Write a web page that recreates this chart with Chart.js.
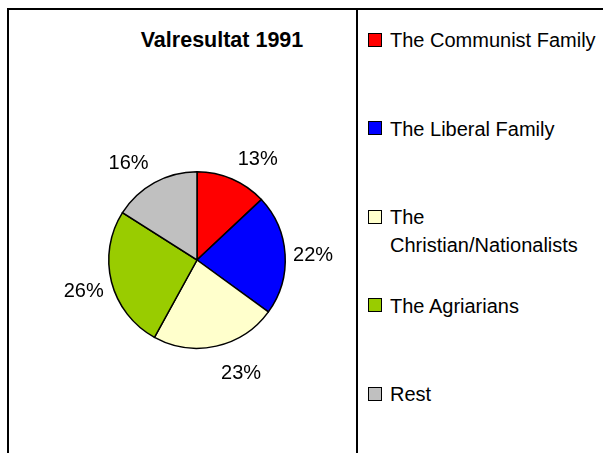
<!DOCTYPE html>
<html>
<head>
<meta charset="utf-8">
<script src="https://cdn.jsdelivr.net/npm/chart.js@4/dist/chart.umd.min.js"></script>
<style>
  html, body { margin: 0; padding: 0; background: #fff; }
  body { width: 603px; height: 453px; position: relative; overflow: hidden; font-family: "Liberation Sans", Arial, sans-serif; }
  #frame { position: absolute; left: 7px; top: 8px; width: 700px; height: 500px; border-top: 2px solid #000; border-left: 2px solid #000; }
  #sep { position: absolute; left: 356px; top: 8px; width: 2px; height: 460px; background: #000; }
  #title { position: absolute; left: 122px; top: 27px; width: 200px; text-align: center; font-weight: bold; font-size: 21.5px; line-height: 26px; color: #000; }
  #chartWrap { position: absolute; left: 9px; top: 10px; width: 347px; height: 443px; }
  #legend { position: absolute; left: 368px; top: 0; width: 235px; height: 453px; }
  .item { position: absolute; left: 0; width: 235px; }
  .sw { position: absolute; left: 0; width: 12px; height: 12px; border: 1.5px solid #000; }
  .txt { position: absolute; left: 22px; width: 212px; font-size: 20px; line-height: 28px; color: #000; }
</style>
</head>
<body>
<div id="frame"></div>
<div id="sep"></div>
<div id="title"></div>
<div id="chartWrap"><canvas id="c" width="347" height="443"></canvas></div>
<div id="legend"></div>
<script>
const chartTitle = "Valresultat 1991";
const categories = ["The Communist Family", "The Liberal Family", "The Christian/Nationalists", "The Agriarians", "Rest"];
const shares = [13, 22, 23, 26, 16];
const colors = ["#FF0000", "#0000FF", "#FFFFCC", "#99CC00", "#C0C0C0"];

document.getElementById('title').textContent = chartTitle;

// HTML legend built from the arrays
const legend = document.getElementById('legend');
categories.forEach((name, i) => {
  const item = document.createElement('div');
  item.className = 'item';
  item.style.top = (40 + i * 88.5 - 14) + 'px';
  const sw = document.createElement('div');
  sw.className = 'sw';
  sw.style.top = '6.5px';
  sw.style.background = colors[i];
  const t = document.createElement('div');
  t.className = 'txt';
  t.textContent = name;
  item.appendChild(sw);
  item.appendChild(t);
  legend.appendChild(item);
});

const pctLabels = {
  id: 'pctLabels',
  afterDatasetsDraw(chart) {
    const ctx = chart.ctx;
    const meta = chart.getDatasetMeta(0);
    const data = chart.data.datasets[0].data;
    const total = data.reduce((a, b) => a + b, 0);
    ctx.save();
    ctx.font = '20px "Liberation Sans", Arial, sans-serif';
    ctx.fillStyle = '#000';
    ctx.textAlign = 'center';
    ctx.textBaseline = 'middle';
    meta.data.forEach((arc, i) => {
      const p = arc.getProps(['x', 'y', 'startAngle', 'endAngle', 'outerRadius'], true);
      const mid = (p.startAngle + p.endAngle) / 2;
      const dx = Math.cos(mid), dy = Math.sin(mid);
      const txt = Math.round(data[i] / total * 100) + '%';
      const w = ctx.measureText(txt).width;
      const x = p.x + (p.outerRadius + 28) * dx + Math.sign(dx) * (w / 2 + 4) * (1 - Math.abs(dx));
      const y = p.y + (p.outerRadius + 25) * dy + 3;
      ctx.fillText(txt, x, y);
    });
    ctx.restore();
  }
};

new Chart(document.getElementById('c'), {
  type: 'pie',
  data: {
    labels: categories,
    datasets: [{
      data: shares,
      backgroundColor: colors,
      borderColor: '#000',
      borderWidth: 1.5,
      borderJoinStyle: 'miter'
    }]
  },
  options: {
    responsive: false,
    animation: false,
    devicePixelRatio: 1,
    layout: { padding: { left: 99, right: 70, top: 161, bottom: 104 } },
    plugins: {
      legend: { display: false },
      title: { display: false },
      tooltip: { enabled: false }
    }
  },
  plugins: [pctLabels]
});
</script>
</body>
</html>
